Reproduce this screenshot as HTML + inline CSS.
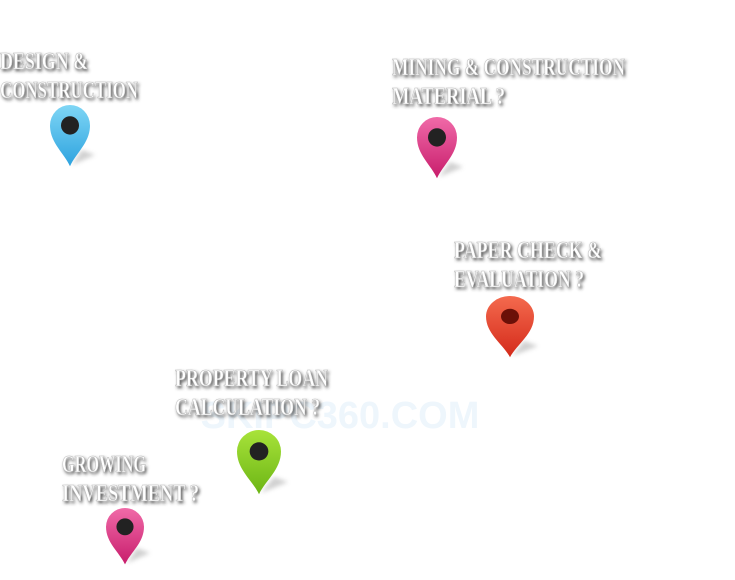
<!DOCTYPE html>
<html><head><meta charset="utf-8"><style>
html,body{margin:0;padding:0;background:#fff;width:735px;height:580px;overflow:hidden}
svg{display:block}
</style></head><body>
<svg width="735" height="580" viewBox="0 0 735 580" xmlns="http://www.w3.org/2000/svg">
<defs>
<filter id="sh" x="-10%" y="-50%" width="120%" height="200%"><feGaussianBlur stdDeviation="1.6"/></filter>
<filter id="ps" x="-50%" y="-50%" width="200%" height="200%"><feGaussianBlur stdDeviation="2"/></filter>
<linearGradient id="gb" x1="0" y1="0" x2="0" y2="1"><stop offset="0" stop-color="#7fd6f5"/><stop offset="1" stop-color="#2ea3df"/></linearGradient>
<linearGradient id="gp" x1="0" y1="0" x2="0" y2="1"><stop offset="0" stop-color="#f06aa8"/><stop offset="1" stop-color="#c81d6c"/></linearGradient>
<linearGradient id="gr" x1="0" y1="0" x2="0" y2="1"><stop offset="0" stop-color="#f46a4e"/><stop offset="1" stop-color="#d42a1a"/></linearGradient>
<linearGradient id="gg" x1="0" y1="0" x2="0" y2="1"><stop offset="0" stop-color="#a8e33a"/><stop offset="1" stop-color="#6cb515"/></linearGradient>
<g id="pin">
<path d="M20 60 C14 47,0 37,0 20 A20 20 0 0 1 40 20 C40 37,26 47,20 60Z"/>
</g>
</defs>

<text x="340" y="428" font-family="Liberation Sans, sans-serif" font-size="38" font-weight="bold" fill="#eef6fc" text-anchor="middle">SKIPC360.COM</text>

<g font-family="Liberation Serif, serif" font-weight="bold" font-size="24">
<g fill="#333" filter="url(#sh)" transform="translate(1.5,2)">
<text x="0" y="69" textLength="88" lengthAdjust="spacingAndGlyphs">DESIGN &amp;</text>
<text x="0" y="98" textLength="138" lengthAdjust="spacingAndGlyphs">CONSTRUCTION</text>
<text x="392" y="75" textLength="233" lengthAdjust="spacingAndGlyphs">MINING &amp; CONSTRUCTION</text>
<text x="392" y="104" textLength="113" lengthAdjust="spacingAndGlyphs">MATERIAL ?</text>
<text x="454" y="258" textLength="148" lengthAdjust="spacingAndGlyphs">PAPER CHECK &amp;</text>
<text x="454" y="287" textLength="130" lengthAdjust="spacingAndGlyphs">EVALUATION ?</text>
<text x="175" y="386" textLength="153" lengthAdjust="spacingAndGlyphs">PROPERTY LOAN</text>
<text x="175" y="415" textLength="145" lengthAdjust="spacingAndGlyphs">CALCULATION ?</text>
<text x="62" y="472" textLength="84" lengthAdjust="spacingAndGlyphs">GROWING</text>
<text x="62" y="501" textLength="137" lengthAdjust="spacingAndGlyphs">INVESTMENT ?</text>
</g>
<g fill="#fff" stroke="#bbb" stroke-width="0.6">
<text x="0" y="69" textLength="88" lengthAdjust="spacingAndGlyphs">DESIGN &amp;</text>
<text x="0" y="98" textLength="138" lengthAdjust="spacingAndGlyphs">CONSTRUCTION</text>
<text x="392" y="75" textLength="233" lengthAdjust="spacingAndGlyphs">MINING &amp; CONSTRUCTION</text>
<text x="392" y="104" textLength="113" lengthAdjust="spacingAndGlyphs">MATERIAL ?</text>
<text x="454" y="258" textLength="148" lengthAdjust="spacingAndGlyphs">PAPER CHECK &amp;</text>
<text x="454" y="287" textLength="130" lengthAdjust="spacingAndGlyphs">EVALUATION ?</text>
<text x="175" y="386" textLength="153" lengthAdjust="spacingAndGlyphs">PROPERTY LOAN</text>
<text x="175" y="415" textLength="145" lengthAdjust="spacingAndGlyphs">CALCULATION ?</text>
<text x="62" y="472" textLength="84" lengthAdjust="spacingAndGlyphs">GROWING</text>
<text x="62" y="501" textLength="137" lengthAdjust="spacingAndGlyphs">INVESTMENT ?</text>
</g>
</g>

<g fill="#999" opacity="0.45" filter="url(#ps)">
<path d="M72 165 L95 155 L82 150Z"/>
<path d="M439 177 L463 167 L450 162Z"/>
<path d="M512 356 L538 346 L524 341Z"/>
<path d="M261 493 L288 482 L274 477Z"/>
<path d="M127 563 L150 553 L137 548Z"/>
</g>

<g transform="translate(50,105) scale(1,1.02)"><use href="#pin" fill="url(#gb)"/><circle cx="20" cy="20" r="9" fill="#222"/></g>
<g transform="translate(417,117) scale(1,1.02)"><use href="#pin" fill="url(#gp)"/><circle cx="20" cy="20" r="9" fill="#222"/></g>
<g transform="translate(486,296) scale(1.2,1.02)"><use href="#pin" fill="url(#gr)"/><circle cx="20" cy="20" r="7.5" fill="#6b1008"/></g>
<g transform="translate(237,430) scale(1.1,1.07)"><use href="#pin" fill="url(#gg)"/><circle cx="20" cy="20" r="8.5" fill="#222"/></g>
<g transform="translate(106,508) scale(0.95,0.94)"><use href="#pin" fill="url(#gp)"/><circle cx="20" cy="20" r="9" fill="#222"/></g>
</svg>
</body></html>
